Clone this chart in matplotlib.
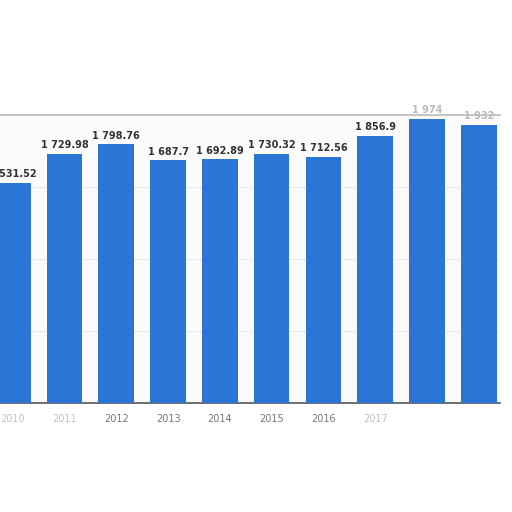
import matplotlib.pyplot as plt

years = ["2010", "2011", "2012", "2013", "2014", "2015", "2016", "2017", "2018", "2019"]
values = [1531.52, 1729.98, 1798.76, 1687.7, 1692.89, 1730.32, 1712.56, 1856.9, 1974.0, 1932.0]
labels = ["1 531.52", "1 729.98", "1 798.76", "1 687.7", "1 692.89",
          "1 730.32", "1 712.56", "1 856.9", "1 974", "1 932"]
shown_ticks = ["2010", "2011", "2012", "2013", "2014", "2015", "2016", "2017", "", ""]

fig = plt.figure(figsize=(5.12, 5.12), dpi=100)
ax = fig.add_axes([0.0, 0.213, 0.977, 0.562])
ax.set_facecolor("#fbfbfb")

x = list(range(len(years)))
ax.bar(x, values, width=0.69, color="#2a75d6", zorder=3)

for xi, v, lab in zip(x, values, labels):
    faded = xi >= 8
    ax.text(xi, v + 25, lab, ha="center", va="bottom", fontsize=7,
            fontweight="bold", color="#bbbbbb" if faded else "#333333",
            clip_on=False, zorder=4)

ax.set_xlim(-0.246, 9.415)
ax.set_ylim(0, 2000)
ax.set_yticks([500, 1000, 1500])
ax.yaxis.grid(True, linestyle=(0, (1, 2)), color="#cccccc", linewidth=0.8, zorder=0)
ax.tick_params(axis="y", left=False, labelleft=False)

ax.set_xticks(x)
ax.set_xticklabels(shown_ticks, fontsize=7, color="#777777")
ax.tick_params(axis="x", length=0, pad=8)
for i, t in enumerate(ax.get_xticklabels()):
    if i in (0, 1, 7):
        t.set_alpha(0.45)

for side in ["left", "right"]:
    ax.spines[side].set_visible(False)
ax.spines["top"].set_color("#bbbbbb")
ax.spines["top"].set_linewidth(1.2)
ax.spines["bottom"].set_color("#555555")
ax.spines["bottom"].set_linewidth(1.2)

fig.savefig("out.png", dpi=100, facecolor="white")
